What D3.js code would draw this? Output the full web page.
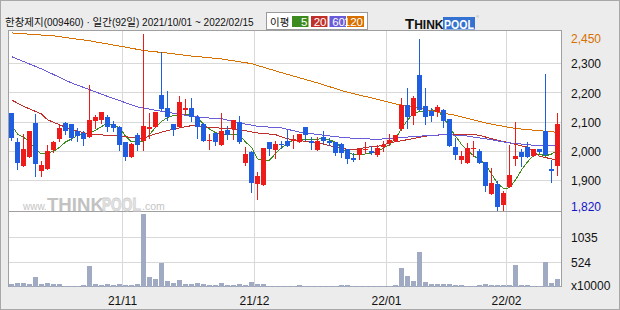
<!DOCTYPE html>
<html>
<head>
<meta charset="utf-8">
<script src="https://cdn.jsdelivr.net/npm/d3@7"></script>
<style>
  body { margin: 0; background: #ececec; }
  svg { display: block; }
</style>
</head>
<body>
<svg id="chart" width="620" height="310"></svg>
<script>
// Daily candles, 2021/10/01 ~ 2022/02/15 (92 trading days).
const title = "한창제지(009460) · 일간(92일) 2021/10/01 ~ 2022/02/15";
const monthIdx = [19, 41, 63, 83];
const monthLabels = ["21/11", "21/12", "22/01", "22/02"];
const priceTicks = [2300, 2200, 2100, 2000, 1900];
const volTicks = [1035, 524];
const hiLabel = "2,450";
const loLabel = "1,820";
const maNames = ["5", "20", "60", "120"];

const open = [2129,2030,1949,1980,2095,1932,1939,2004,2040,2095,
  2092,2069,2061,2046,2103,2106,2114,2092,2080,2030,
  1979,2053,2032,2076,2080,2192,2146,2092,2081,2139,
  2146,2114,2092,2032,2061,2021,2071,2076,2098,1958,
  1996,1887,1884,2030,2004,2023,2032,2032,2029,2081,
  2032,2004,2047,2035,2029,2023,2007,1975,1985,2003,
  1999,1987,2012,2027,2035,2076,2155,2120,2258,2152,
  2135,2132,2141,2109,2012,1970,1958,2007,1998,1962,
  1853,1887,1814,1875,1973,1996,2013,1982,2007,2069,
  1937,1947];
const high = [2129,2044,2057,2066,2127,1966,2021,2035,2089,2099,
  2092,2078,2067,2226,2121,2133,2121,2101,2084,2030,
  2027,2061,2399,2129,2133,2338,2205,2092,2186,2178,
  2180,2121,2095,2057,2061,2129,2084,2104,2118,2012,
  1998,1928,2010,2030,2032,2032,2072,2055,2057,2081,
  2046,2046,2067,2044,2029,2027,2007,1993,2007,2029,
  2015,2019,2032,2057,2053,2180,2214,2186,2382,2214,
  2146,2155,2144,2109,2044,2000,2027,2032,2007,1962,
  1941,1898,1864,2021,2098,2007,2030,2006,2007,2264,
  1969,2129];
const low = [2036,1939,1949,1980,1913,1915,1939,1996,2032,2057,
  2037,2035,2019,2046,2078,2095,2067,2067,2004,1968,
  1979,2004,2004,2044,2080,2141,2106,2055,2081,2126,
  2103,2044,2035,2007,2019,2021,2041,2041,2027,1950,
  1859,1836,1884,1987,1975,2010,2015,2010,2029,2038,
  2007,2004,2027,2021,1985,1978,1958,1966,1973,1993,
  1989,1981,2000,2019,2035,2072,2078,2092,2141,2092,
  2103,2118,2081,2018,1973,1958,1958,1981,1958,1864,
  1853,1796,1796,1875,1950,1947,1980,1982,1996,1985,
  1893,1916];
const close = [2044,1959,2006,2066,1956,1953,1998,2030,2078,2069,
  2044,2052,2041,2105,2116,2133,2082,2078,2019,1979,
  2023,2021,2084,2081,2133,2144,2115,2070,2167,2146,
  2114,2082,2035,2037,2029,2066,2053,2104,2030,1989,
  1890,1913,2010,2007,2023,2019,2015,2037,2057,2053,
  2028,2032,2035,2028,1994,1994,1973,1970,2005,2007,
  1992,2010,2021,2038,2053,2155,2114,2180,2141,2114,
  2120,2150,2103,2018,1987,1982,2010,2011,1958,1878,
  1890,1807,1856,1916,1981,1980,1980,2006,1996,1985,
  1932,2092];
// volume in units of 10000 shares
const volume = [55,83,83,62,200,62,83,62,62,21,
  21,21,41,428,55,41,55,41,55,41,
  41,55,1504,200,159,497,117,76,138,55,
  55,76,55,41,41,76,41,41,55,41,
  97,55,55,21,21,21,28,14,35,14,
  14,14,14,14,14,35,35,14,14,14,
  14,14,14,14,35,386,221,117,718,104,
  62,62,62,62,41,41,21,21,35,62,
  41,41,41,41,455,41,41,21,21,511,
  83,166];

// moving averages as drawn (ma5 per day, the slower ones sampled [day, value])
const ma5 = [2089,2057,2046,2032,2005,1989,1992,1998,2012,2030,
  2040,2053,2056,2060,2070,2083,2094,2087,2079,2050,
  2030,2030,2034,2055,2080,2100,2114,2120,2123,2126,
  2119,2115,2090,2074,2062,2057,2056,2055,2054,2030,
  2012,1973,1965,1968,1990,2010,2027,2036,2037,2038,
  2039,2040,2041,2038,2029,2010,1993,1988,1987,1989,
  1993,1996,2010,2020,2042,2075,2105,2128,2134,2136,
  2140,2138,2115,2080,2050,2022,2000,1984,1968,1955,
  1921,1888,1871,1873,1900,1934,1962,1984,1989,1982,
  1989,2000];
const ma20 = [[0,2174],[2,2152],[5,2126],[6,2106],[8,2089],[10,2072],[13,2057],
  [16,2053],[18,2050],[21,2044],[22,2042],[24,2058],[27,2074],[30,2086],[33,2080],
  [36,2076],[38,2072],[41,2061],[44,2055],[46,2041],[49,2032],[52,2023],[55,2007],
  [57,2004],[60,2014],[61,2015],[63,2027],[66,2038],[69,2050],[73,2057],[76,2057],
  [78,2053],[80,2041],[83,2027],[86,2012],[88,1981],[91,1968]];
const ma60 = [[0,2322],[5,2280],[10,2232],[16,2186],[21,2150],[25,2135],[30,2118],
  [33,2112],[35,2110],[38,2095],[41,2084],[45,2078],[48,2064],[52,2053],[56,2044],
  [61,2039],[64,2044],[68,2050],[72,2055],[75,2053],[79,2041],[83,2027],[87,2019],[91,2018]];
const ma120 = [[0,2403],[7,2393],[13,2376],[18,2358],[22,2343],[26,2334],[30,2324],
  [35,2314],[40,2298],[45,2267],[51,2232],[56,2200],[61,2176],[64,2160],[69,2141],
  [74,2121],[79,2095],[84,2076],[91,2063]];

const UP = "#ee1b1b", DOWN = "#1f5ee0", VOL = "#a0aac2";
const GRID = "#d9d9d9", FRAME = "#a0a0a0";
const MA_COLORS = ["#3d8b1f", "#c0302a", "#6a5bd6", "#d87000"];
const SANS = "Liberation Sans, Arial, sans-serif";
const KR = "Noto Sans CJK KR, sans-serif";

const panel = { left: 8, right: 562, top: 30, mid: 211, bottom: 287 };
const svg = d3.select("#chart");

// background + outer border
svg.append("rect").attr("x", 0.5).attr("y", 0.5).attr("width", 619).attr("height", 309)
  .attr("fill", "#ececec").attr("stroke", "#a8a8a8");
svg.append("rect")
  .attr("x", panel.left).attr("y", panel.top)
  .attr("width", panel.right - panel.left).attr("height", panel.bottom - panel.top)
  .attr("fill", "#fff");

const x = d3.scaleBand().domain(d3.range(open.length))
  .range([8.5, 560.5]).paddingInner(1 / 6).paddingOuter(1 / 12);
const y = d3.scaleLinear().domain([1794, 2413]).range([panel.mid, panel.top]);
const vy = d3.scaleLinear().domain([0, 1553]).range([panel.bottom, 212]);
const cx = i => x(i) + x.bandwidth() / 2;
const gridX = i => x(i) - (x.step() - x.bandwidth()) / 2;

const g = svg.append("g").attr("shape-rendering", "crispEdges");

// grid
g.selectAll("line.hgrid").data(priceTicks).join("line")
  .attr("x1", panel.left).attr("x2", panel.right)
  .attr("y1", d => Math.round(y(d)) + 0.5).attr("y2", d => Math.round(y(d)) + 0.5)
  .attr("stroke", GRID);
g.selectAll("line.vgridv").data(volTicks).join("line")
  .attr("x1", panel.left).attr("x2", panel.right)
  .attr("y1", d => Math.round(vy(d)) + 0.5).attr("y2", d => Math.round(vy(d)) + 0.5)
  .attr("stroke", GRID);
g.selectAll("line.vgrid").data(monthIdx).join("line")
  .attr("x1", gridX).attr("x2", gridX)
  .attr("y1", panel.top).attr("y2", panel.bottom)
  .attr("stroke", GRID);

// watermark
const wm = svg.append("g").attr("font-family", SANS);
wm.append("text").attr("x", 23).attr("y", 210).attr("font-size", 10)
  .attr("fill", "#c4c4c4").text("www.");
wm.append("text").attr("transform", "translate(47,210.5) scale(0.98,1)")
  .attr("font-size", 19).attr("font-weight", "bold")
  .attr("fill", "#c2c2c2").text("THINK");
wm.append("text").attr("transform", "translate(102,210.5) scale(0.72,1)")
  .attr("font-size", 19).attr("font-weight", "bold")
  .attr("fill", "#e4e4e4").attr("stroke", "#cdcdcd").attr("stroke-width", 0.8)
  .text("POOL");
wm.append("text").attr("x", 142).attr("y", 210).attr("font-size", 10.5)
  .attr("fill", "#c4c4c4").text(".com");

// moving averages
const line = d3.line().x(d => cx(d[0])).y(d => y(d[1]));
const maSeries = [ma5.map((v, i) => [i, v]), ma20, ma60, ma120];
svg.append("g").attr("fill", "none").attr("shape-rendering", "crispEdges")
  .selectAll("path").data(maSeries).join("path")
  .attr("d", line)
  .attr("stroke", (d, k) => MA_COLORS[k])
  .attr("stroke-width", 1);

// candles
const idx = d3.range(open.length);
const cg = svg.append("g").attr("shape-rendering", "crispEdges");
const colorOf = i => close[i] >= open[i] ? UP : DOWN;
cg.selectAll("line.wick").data(idx).join("line")
  .attr("x1", cx).attr("x2", cx)
  .attr("y1", i => Math.round(y(high[i]))).attr("y2", i => Math.round(y(low[i])) + 1)
  .attr("stroke", colorOf);
cg.selectAll("rect.body").data(idx).join("rect")
  .attr("x", i => x(i))
  .attr("width", x.bandwidth())
  .attr("y", i => Math.round(y(Math.max(open[i], close[i]))))
  .attr("height", i => Math.max(1, Math.round(y(Math.min(open[i], close[i]))) - Math.round(y(Math.max(open[i], close[i])))))
  .attr("fill", colorOf);

// volume
cg.selectAll("rect.vol").data(idx).join("rect")
  .attr("x", i => x(i))
  .attr("width", x.bandwidth())
  .attr("y", i => Math.round(vy(volume[i])))
  .attr("height", i => panel.bottom - Math.round(vy(volume[i])))
  .attr("fill", VOL);

// panel frames
g.append("rect")
  .attr("x", panel.left + 0.5).attr("y", panel.top + 0.5)
  .attr("width", panel.right - panel.left - 1).attr("height", panel.bottom - panel.top - 1)
  .attr("fill", "none").attr("stroke", FRAME);
g.append("line").attr("x1", panel.left).attr("x2", panel.right)
  .attr("y1", panel.mid + 0.5).attr("y2", panel.mid + 0.5).attr("stroke", FRAME);

// right axis labels
const ax = svg.append("g").attr("font-family", SANS)
  .attr("font-size", 12).attr("dominant-baseline", "central");
ax.selectAll("text.p").data(priceTicks).join("text")
  .attr("x", 571).attr("y", d => y(d) + 1.3)
  .attr("fill", "#111").text(d3.format(","));
ax.append("text").attr("x", 571).attr("y", 38.5).attr("fill", "#d87000").text(hiLabel);
ax.append("text").attr("x", 571).attr("y", 206.5).attr("fill", "#1515c8").text(loLabel);
ax.selectAll("text.v").data(volTicks).join("text")
  .attr("x", 571).attr("y", d => vy(d) + 1).attr("fill", "#111").text(d => d);
ax.append("text").attr("x", 571).attr("y", 286).attr("fill", "#111").text("x10000");

// month labels
ax.selectAll("text.m").data(monthIdx).join("text")
  .attr("x", gridX).attr("y", 300.5).attr("text-anchor", "middle")
  .attr("fill", "#111").text((d, k) => monthLabels[k]);

// header: Hangul runs in the CJK face, digits and punctuation in a narrower Latin face
const header = svg.append("text").attr("x", 5).attr("y", 26).attr("fill", "#111");
header.selectAll("tspan")
  .data(title.match(/[\uAC00-\uD7A3]+|[^\uAC00-\uD7A3]+/g))
  .join("tspan")
  .attr("font-family", d => /[\uAC00-\uD7A3]/.test(d) ? KR : SANS)
  .attr("font-size", d => /[\uAC00-\uD7A3]/.test(d) ? 10.5 : 10)
  .text(d => d);

// legend box
const lg = svg.append("g");
lg.append("rect").attr("x", 266.5).attr("y", 12.5).attr("width", 101).attr("height", 17)
  .attr("fill", "#fff").attr("stroke", "#9a9a9a");
lg.append("text").attr("x", 270).attr("y", 25.5)
  .attr("font-family", KR).attr("font-size", 10.5)
  .attr("fill", "#111").text("이평");
const boxX = [292, 311, 329.5, 347];
const boxW = [16.5, 16.5, 16.5, 17];
maNames.forEach((name, k) => {
  lg.append("rect").attr("x", boxX[k]).attr("y", 16).attr("width", boxW[k]).attr("height", 11)
    .attr("fill", MA_COLORS[k]);
  lg.append("text").attr("x", boxX[k] + boxW[k] - 1).attr("y", 25.5)
    .attr("text-anchor", "end").attr("font-family", SANS)
    .attr("font-size", 11.5).attr("fill", "#fff").text(name);
});

// THINKPOOL logo
const logo = svg.append("g").attr("font-family", SANS).attr("font-weight", "bold");
logo.append("text").attr("x", 405).attr("y", 28.5).attr("fill", "#111")
  .html('<tspan font-size="15">T</tspan><tspan font-size="12">HINK</tspan>');
logo.append("rect").attr("x", 443).attr("y", 17).attr("width", 32).attr("height", 12.5)
  .attr("fill", "#3472d2");
logo.append("text").attr("transform", "translate(444,28.5) scale(0.88,1)")
  .attr("fill", "#fff").attr("font-size", 12).text("POOL");
logo.append("text").attr("x", 476).attr("y", 18).attr("fill", "#999").attr("font-size", 4)
  .attr("font-weight", "normal").text("®");
</script>
</body>
</html>
